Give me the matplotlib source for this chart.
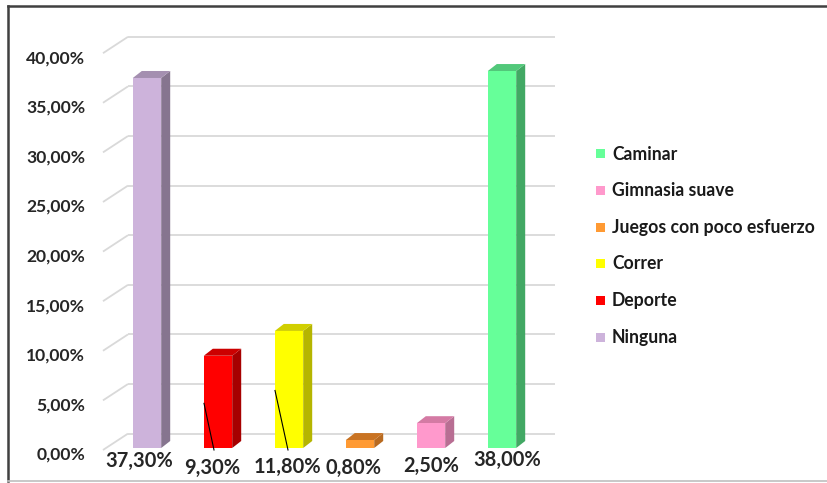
import matplotlib
matplotlib.use("Agg")
import matplotlib.pyplot as plt
from matplotlib.patches import Polygon, Rectangle
from matplotlib.lines import Line2D

# ---- data ----
categories = ["Ninguna", "Deporte", "Correr", "Juegos con poco esfuerzo", "Gimnasia suave", "Caminar"]
values = [37.30, 9.30, 11.80, 0.80, 2.50, 38.00]
value_labels = ["37,30%", "9,30%", "11,80%", "0,80%", "2,50%", "38,00%"]
tick_values = [0, 5, 10, 15, 20, 25, 30, 35, 40]
tick_labels = ["0,00%", "5,00%", "10,00%", "15,00%", "20,00%", "25,00%", "30,00%", "35,00%", "40,00%"]

# ---- styles ----
front_colors = ["#CDB3DB", "#FF0000", "#FFFF00", "#FF9A33", "#FF99CC", "#66FF99"]
side_colors = ["#86758F", "#A60000", "#B5B500", "#B86A20", "#B86E93", "#42A864"]
top_colors = ["#A48FB0", "#CC0000", "#D1CF00", "#C97322", "#D47AA4", "#52C87A"]
label_dx = [-0.11, -0.08, -0.02, -0.085, 0.0, 0.07]
label_dy = [-1.3, -2.0, -1.9, -2.0, -1.8, -1.2]

W, H = 827, 483
fig = plt.figure(figsize=(W / 100, H / 100), dpi=100)
ax = fig.add_axes([0, 0, 1, 1])
ax.set_xlim(-147 / 71, (W - 147) / 71)
ax.set_ylim(-35 / 9.92, 448 / 9.92)
ax.axis("off")

font = ["Lato", "DejaVu Sans"]
bar_w = 0.40
ddx, ddy = 9 / 71, 7 / 9.92          # bar depth
bdx, bdy = 25 / 71, 1.45             # back wall offset
left_front = -0.62
right_back = (555 - 147) / 71

# gridlines (back wall + diagonal floor/side lines)
grid_c = "#D9D9D9"
for v in tick_values:
    ax.plot([left_front, left_front + bdx], [v - 0.2, v + bdy], color=grid_c, lw=1.3, zorder=1, solid_capstyle="butt")
    ax.plot([left_front + bdx, right_back], [v + bdy, v + bdy], color=grid_c, lw=1.3, zorder=1, solid_capstyle="butt")

for v, t in zip(tick_values, tick_labels):
    ax.text(-0.873, v - 0.7, t, ha="right", va="center", fontsize=12.6, fontweight="bold",
            family=font, color="#262626")

# bars
for i, (v, fc, sc, tc) in enumerate(zip(values, front_colors, side_colors, top_colors)):
    x0, x1 = i - bar_w / 2, i + bar_w / 2
    side = Polygon([(x1, 0), (x1 + ddx, ddy), (x1 + ddx, v + ddy), (x1, v)], closed=True,
                   facecolor=sc, edgecolor="none", zorder=3)
    top = Polygon([(x0, v), (x1, v), (x1 + ddx, v + ddy), (x0 + ddx, v + ddy)], closed=True,
                  facecolor=tc, edgecolor="none", zorder=3)
    front = Rectangle((x0, 0), bar_w, v, facecolor=fc, edgecolor="none", zorder=4)
    ax.add_patch(side)
    ax.add_patch(top)
    ax.add_patch(front)

# leader lines on Deporte and Correr
for i, ya, xb in [(1, 4.5, -4 / 71), (2, 5.8, -1 / 71)]:
    ax.plot([i - 14 / 71, i + xb], [ya, -0.2], color="black", lw=0.8, zorder=5)

# data labels
for i, (lab, dx, dy) in enumerate(zip(value_labels, label_dx, label_dy)):
    ax.text(i + dx, dy, lab, ha="center", va="center", fontsize=14.4, fontweight="bold",
            family=font, color="#262626", zorder=6)

# legend (reversed order)
def fx(x):
    return x / W

def fy(y):
    return 1 - y / H

for k, idx in enumerate(reversed(range(len(categories)))):
    yc = 154 + 36.6 * k
    ax.add_patch(Rectangle((fx(596), fy(yc + 4.5)), 9 / W, 9 / H, transform=ax.transAxes,
                           facecolor=front_colors[idx], edgecolor="none"))
    ax.text(fx(612), fy(yc), categories[idx], transform=ax.transAxes, ha="left", va="center",
            fontsize=12.7, fontweight="bold", family=font, color="#1a1a1a")

# border
ax.add_line(Line2D([fx(8), 1], [fy(6), fy(6)], transform=ax.transAxes, color="#404040", lw=1.8))
ax.add_line(Line2D([fx(8), fx(8)], [fy(6), fy(481)], transform=ax.transAxes, color="#404040", lw=1.8))
ax.add_line(Line2D([fx(8), 1], [fy(481), fy(481)], transform=ax.transAxes, color="#BFBFBF", lw=1.2))

fig.savefig("out.png", dpi=100)
